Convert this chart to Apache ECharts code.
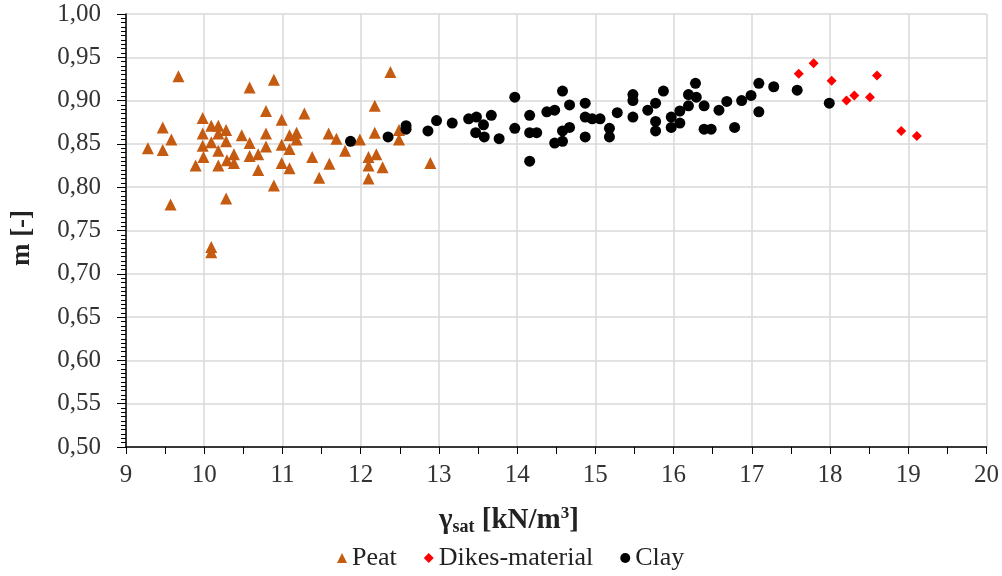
<!DOCTYPE html>
<html><head><meta charset="utf-8">
<script src="https://cdn.jsdelivr.net/npm/echarts@6/dist/echarts.min.js"></script>
<style>html,body{margin:0;padding:0;background:#fff}#c{width:1002px;height:576px}</style>
</head><body><div id="c"></div>
<script>
const peatGamma = [9.67,10.58,10.89,10.79,11.28,10.99,9.47,9.98,10.09,10.18,10.28,9.98,10.18,9.58,9.28,9.47,10.09,10.28,9.98,10.48,10.58,10.79,10.79,11.09,11.18,11.18,10.99,11.09,11.59,11.69,10.18,9.99,10.38,10.58,10.69,9.89,10.18,10.29,10.38,10.69,10.99,11.09,11.38,11.60,11.47,10.89,9.57,10.28,10.09,10.09,12.38,12.18,11.99,12.18,12.49,12.49,11.80,12.10,12.20,12.10,12.28,12.10,12.89];
const peatM = [0.928,0.915,0.924,0.888,0.885,0.878,0.869,0.880,0.871,0.871,0.866,0.862,0.862,0.855,0.845,0.843,0.852,0.853,0.848,0.860,0.851,0.862,0.847,0.860,0.863,0.855,0.849,0.844,0.862,0.856,0.842,0.835,0.838,0.836,0.838,0.825,0.825,0.831,0.828,0.820,0.828,0.822,0.835,0.827,0.811,0.802,0.780,0.787,0.731,0.725,0.933,0.894,0.855,0.863,0.866,0.855,0.842,0.835,0.838,0.825,0.823,0.810,0.828];
const dikesGamma = [17.60,17.79,18.02,18.21,18.31,18.51,18.60,18.91,19.11];
const dikesM = [0.931,0.943,0.923,0.900,0.906,0.904,0.929,0.865,0.859];
const clayGamma = [11.87,12.35,12.58,12.58,12.86,12.97,13.17,13.38,13.48,13.67,13.57,13.47,13.58,13.77,13.97,13.97,14.16,14.16,14.25,14.16,14.38,14.48,14.58,14.67,14.67,14.58,14.48,14.58,14.87,14.87,14.96,15.06,14.87,15.18,15.18,15.28,15.48,15.48,15.48,15.67,15.77,15.87,15.77,15.77,15.97,15.97,16.08,16.08,16.19,16.19,16.28,16.29,16.39,16.39,16.48,16.58,16.68,16.78,16.87,16.99,17.09,17.09,17.28,17.58,17.99];
const clayM = [0.853,0.858,0.871,0.867,0.865,0.877,0.874,0.879,0.881,0.883,0.872,0.863,0.858,0.856,0.904,0.868,0.883,0.863,0.863,0.830,0.887,0.889,0.911,0.895,0.869,0.865,0.851,0.853,0.897,0.881,0.879,0.879,0.858,0.868,0.858,0.886,0.907,0.900,0.881,0.889,0.897,0.911,0.876,0.865,0.881,0.869,0.874,0.888,0.894,0.907,0.920,0.904,0.894,0.867,0.867,0.889,0.899,0.869,0.900,0.906,0.920,0.887,0.916,0.912,0.897];
const seriesNames = ['Peat','Dikes-material','Clay'];

const pairs = (xs, ys) => xs.map((x, i) => [x, ys[i]]);
const font = 'Liberation Serif';
const txt = '#222';
const chart = echarts.init(document.getElementById('c'));
chart.setOption({
  animation: false,
  textStyle: { fontFamily: font },
  grid: { left: 126, top: 14, right: 15, bottom: 129, containLabel: false },
  legend: {
    bottom: 0, left: 332, itemWidth: 10, itemHeight: 10, itemGap: 27,
    textStyle: { fontFamily: font, fontSize: 26, color: txt },
    data: [
      { name: seriesNames[0], icon: 'triangle' },
      { name: seriesNames[1], icon: 'diamond' },
      { name: seriesNames[2], icon: 'circle' }
    ]
  },
  graphic: [{
    type: 'text', left: 439, top: 505,
    style: {
      text: '{g|γ}{s|sat}{g| [kN/m}{p|3}{g|]}',
      rich: {
        g: { fontFamily: font, fontSize: 29, fontWeight: 'bold', fill: txt },
        s: { fontFamily: font, fontSize: 18, fontWeight: 'bold', fill: txt, padding: [14, 0, 0, 0] },
        p: { fontFamily: font, fontSize: 17, fontWeight: 'bold', fill: txt, padding: [0, 0, 14, 0] }
      }
    }
  }, {
    type: 'text', x: 22, y: 238, rotation: Math.PI / 2,
    style: {
      text: 'm [-]', align: 'center', verticalAlign: 'middle',
      font: 'bold 27px "Liberation Serif"', fill: txt
    }
  }],
  xAxis: {
    type: 'value', min: 9, max: 20, interval: 1,
    axisLine: { onZero: false, lineStyle: { color: '#000', width: 1.5 } },
    axisTick: { show: true, length: 7, lineStyle: { color: '#000' } },
    minorTick: { show: true, splitNumber: 2, length: 7, lineStyle: { color: '#000' } },
    axisLabel: { fontSize: 25, color: '#333', margin: 16, fontFamily: font },
    splitLine: { show: true, lineStyle: { color: '#d9d9d9', width: 1.5 } }
  },
  yAxis: {
    type: 'value', min: 0.5, max: 1.0, interval: 0.05,
    axisLine: { onZero: false, lineStyle: { color: '#000', width: 1.5 } },
    axisTick: { show: true, length: 9, lineStyle: { color: '#000' } },
    minorTick: { show: true, splitNumber: 10, length: 5, lineStyle: { color: '#000' } },
    axisLabel: { fontSize: 25, color: '#333', margin: 25, fontFamily: font,
      formatter: v => v.toFixed(2).replace('.', ',') },
    splitLine: { show: true, lineStyle: { color: '#d9d9d9', width: 1.5 } }
  },
  series: [
    { name: seriesNames[0], type: 'scatter', symbol: 'triangle', symbolSize: 12,
      itemStyle: { color: '#C55A11', opacity: 1 }, data: pairs(peatGamma, peatM) },
    { name: seriesNames[1], type: 'scatter', symbol: 'diamond', symbolSize: 10,
      itemStyle: { color: '#FF0000', opacity: 1 }, data: pairs(dikesGamma, dikesM) },
    { name: seriesNames[2], type: 'scatter', symbol: 'circle', symbolSize: 11,
      itemStyle: { color: '#000000', opacity: 1 }, data: pairs(clayGamma, clayM) }
  ]
});
</script></body></html>
